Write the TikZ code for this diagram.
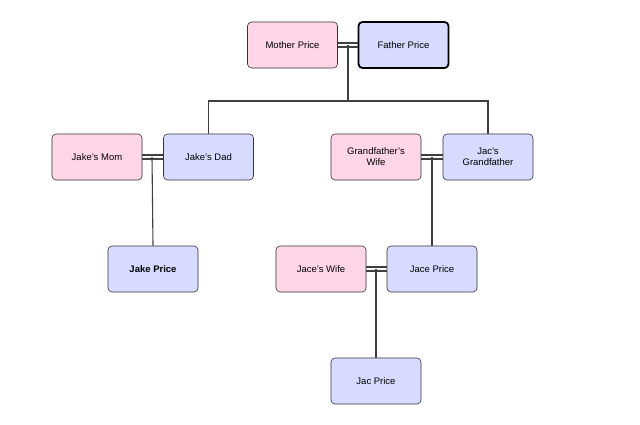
\documentclass[tikz,border=0pt]{standalone}
\usepackage{fontspec}
\setmainfont{Liberation Sans}
\begin{document}
\begin{tikzpicture}[x=1pt,y=-1pt,
  person/.style={draw=black!80,rounded corners=4pt,minimum width=90pt,minimum height=46pt,inner sep=1pt,align=center,font=\fontsize{9.5}{11}\selectfont,line width=0.6pt},
  f/.style={person,fill=pink!40!white!90!magenta!0,fill={rgb,255:red,255;green,214;blue,232}},
  m/.style={person,fill={rgb,255:red,214;green,219;blue,255}},
  wire/.style={draw=black!75,line width=1.1pt}]
\useasboundingbox (0,0) rectangle (640,424);
\node[f] (mp) at (292.5,45) {Mother Price};
\node[m,line width=1.8pt,draw=black] (fp) at (403.5,45) {Father Price};
\node[f] (jm) at (97,157) {Jake's Mom};
\node[m] (jd) at (208.5,157) {Jake's Dad};
\node[f] (gw) at (376,157) {Grandfather's\\Wife};
\node[m] (jg) at (488,157) {Jac's\\Grandfather};
\node[m] (jp) at (153,269) {\textbf{Jake Price}};
\node[f] (jw) at (321,269) {Jace's Wife};
\node[m] (jcp) at (432,269) {Jace Price};
\node[m] (jac) at (376,381) {Jac Price};
\foreach \a/\b in {mp/fp,jm/jd,gw/jg,jw/jcp}{
  \draw[wire] ([yshift=-2pt]\a.east) -- ([yshift=-2pt]\b.west);
  \draw[wire] ([yshift=2pt]\a.east) -- ([yshift=2pt]\b.west);
}
\coordinate (c1) at (348,45);
\coordinate (c1b) at (348,101);
\draw[wire] (c1) -- (c1b);
\draw[wire] (jd.north) |- (c1b) -| (jg.north);
\draw[wire] (152,157) -- (jp.north);
\draw[wire] (432,157) -- (jcp.north);
\draw[wire] (376,269) -- (jac.north);
\end{tikzpicture}
\end{document}
